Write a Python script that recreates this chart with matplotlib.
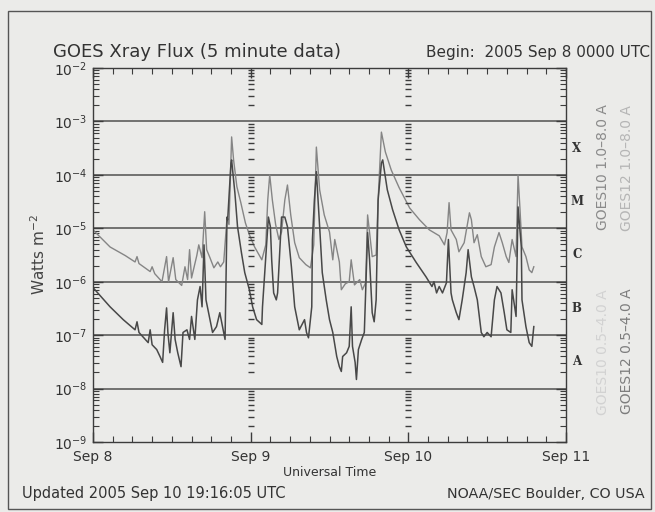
import numpy as np
import matplotlib
matplotlib.use("Agg")
import matplotlib.pyplot as plt
from matplotlib.patches import Rectangle
from matplotlib.ticker import FixedLocator, NullFormatter

# =====
# DATA
# =====

# hours since 2005 Sep 8 00:00 UTC, and log10 of flux (W m^-2)
long_hours = [0.0, 2.6, 4.9, 6.4, 6.7, 7.0, 8.7, 9.0, 9.4, 10.5, 11.2, 11.5, 12.2, 12.6,
              13.5, 14.0, 14.4, 14.7, 15.0, 15.8, 16.1, 16.6, 17.0, 17.3, 17.8, 18.4,
              19.0, 19.4, 19.9, 20.4, 20.7, 21.1, 21.4, 21.9, 22.5, 23.2, 23.8, 24.6,
              25.7, 26.3, 26.6, 26.9, 27.3, 27.8, 28.3, 28.7, 29.2, 29.6, 30.1, 30.7,
              31.4, 32.4, 33.1, 33.6, 34.0, 34.5, 35.2, 36.0, 36.5, 36.8, 37.5, 37.8,
              38.4, 39.0, 39.3, 39.8, 40.6, 41.0, 41.5, 41.8, 42.1, 42.5, 43.1, 43.4,
              43.9, 44.5, 45.4, 46.6, 48.2, 49.7, 51.2, 52.7, 53.5, 53.9, 54.2, 54.5,
              55.3, 55.7, 56.5, 57.3, 57.6, 58.0, 58.5, 59.1, 59.8, 60.6, 61.1, 61.8,
              62.3, 62.9, 63.3, 63.8, 64.4, 64.7, 65.0, 65.3, 65.9, 66.4, 66.8, 67.1]
long_logflux = [-5.03, -5.35, -5.51, -5.63, -5.53, -5.66, -5.81, -5.72, -5.85, -6.00, -5.53,
                -6.00, -5.55, -5.96, -6.07, -5.72, -5.96, -5.40, -5.93, -5.51, -5.31, -5.55,
                -4.69, -5.40, -5.55, -5.74, -5.63, -5.72, -5.63, -4.80, -4.93, -3.29, -3.72,
                -4.22, -4.52, -4.90, -5.12, -5.35, -5.59, -5.31, -4.47, -4.00, -4.47, -4.93,
                -5.21, -5.07, -4.47, -4.19, -4.75, -5.27, -5.55, -5.68, -5.74, -5.31, -3.48,
                -4.28, -4.75, -5.07, -5.59, -5.21, -5.63, -6.15, -6.04, -6.00, -5.59, -6.06,
                -5.96, -6.15, -6.02, -4.75, -5.08, -5.53, -5.50, -4.47, -3.20, -3.57, -3.91,
                -4.24, -4.62, -4.84, -5.03, -5.14, -5.31, -5.08, -4.52, -5.03, -5.21, -5.44,
                -5.27, -4.71, -4.84, -5.27, -5.12, -5.53, -5.72, -5.68, -5.35, -5.08, -5.27,
                -5.53, -5.64, -5.21, -5.53, -4.00, -4.65, -5.35, -5.53, -5.78, -5.83, -5.72]

short_hours = [0.0, 2.6, 4.6, 6.4, 6.7, 7.0, 8.4, 8.7, 9.0, 9.7, 10.2, 10.6, 10.9, 11.2,
               11.4, 11.7, 12.2, 12.5, 12.9, 13.4, 13.7, 14.3, 14.7, 15.0, 15.5, 15.9,
               16.3, 16.6, 16.9, 17.2, 18.2, 18.8, 19.3, 19.6, 20.1, 20.4, 20.5, 21.0,
               21.1, 21.6, 22.0, 22.6, 23.1, 23.8, 24.3, 24.9, 25.7, 25.8, 26.4, 26.7,
               27.0, 27.2, 27.5, 27.9, 28.1, 28.7, 29.2, 29.6, 30.2, 30.7, 31.1, 31.4,
               32.2, 32.5, 32.8, 33.3, 33.4, 33.7, 34.0, 34.5, 34.9, 35.5, 36.0, 36.5,
               37.1, 37.5, 37.8, 38.0, 38.6, 39.0, 39.3, 39.5, 39.9, 40.1, 40.4, 40.9,
               41.3, 41.6, 41.8, 42.1, 42.5, 42.8, 43.1, 43.4, 43.9, 44.1, 44.8, 45.6,
               46.6, 47.7, 49.2, 50.7, 51.6, 51.9, 52.3, 52.7, 53.2, 53.8, 54.1, 54.5,
               54.7, 55.3, 55.7, 56.2, 56.8, 57.1, 57.6, 58.0, 58.5, 59.1, 59.5, 60.0,
               60.6, 61.1, 61.5, 62.1, 62.6, 63.0, 63.6, 63.8, 64.4, 64.7, 65.2, 65.3,
               65.9, 66.4, 66.8, 67.1]
short_logflux = [-6.11, -6.47, -6.71, -6.90, -6.75, -6.95, -7.14, -6.90, -7.18, -7.27, -7.40,
                 -7.51, -6.90, -6.49, -6.95, -7.33, -6.58, -7.08, -7.33, -7.59, -6.95, -6.90,
                 -7.08, -6.65, -7.08, -6.34, -6.09, -6.47, -5.31, -6.34, -6.95, -6.84, -6.58,
                 -6.77, -7.08, -4.79, -4.84, -3.78, -3.72, -4.34, -4.97, -5.46, -5.83, -6.15,
                 -6.47, -6.71, -6.80, -6.47, -5.35, -4.79, -4.97, -5.59, -6.21, -6.34, -6.21,
                 -4.79, -4.79, -4.97, -5.72, -6.47, -6.71, -6.90, -6.71, -6.95, -7.05, -6.47,
                 -5.21, -4.47, -3.94, -4.97, -5.83, -6.34, -6.71, -6.95, -7.40, -7.59, -7.68,
                 -7.40, -7.33, -7.21, -6.47, -7.21, -7.51, -7.83, -7.27, -7.08, -6.95, -5.83,
                 -5.08, -5.59, -6.58, -6.75, -6.34, -4.47, -3.78, -3.72, -4.28, -4.65, -5.03,
                 -5.35, -5.64, -5.91, -6.09, -6.00, -6.21, -6.09, -6.21, -6.02, -5.21, -6.21,
                 -6.34, -6.58, -6.71, -6.34, -5.83, -5.40, -5.91, -6.09, -6.34, -6.95, -7.03,
                 -6.95, -7.03, -6.34, -6.09, -6.21, -6.58, -6.90, -6.95, -6.15, -6.65, -4.60,
                 -5.35, -6.34, -6.84, -7.14, -7.21, -6.84]

day_hours = [0, 24, 48, 72]
day_labels = ['Sep 8', 'Sep 9', 'Sep 10', 'Sep 11']
flare_classes = ['X', 'M', 'C', 'B', 'A']
class_centers = [-3.5, -4.5, -5.5, -6.5, -7.5]

# =====
# PLOT
# =====

bg = '#ebebe9'
ink = '#3c3c3c'

fig = plt.figure(figsize=(6.55, 5.12), dpi=100, facecolor=bg)
ax = fig.add_axes([93/655, 1 - 442/512, 473/655, 374/512], facecolor=bg)

ax.plot(long_hours, 10.0**np.array(long_logflux), color='#858585', lw=1.0)
ax.plot(short_hours, 10.0**np.array(short_logflux), color='#484848', lw=1.1)

ax.set_yscale('log')
ax.set_ylim(1e-9, 1e-2)
ax.set_xlim(0, 72)

# decade grid lines
for e in range(-8, -2):
    ax.axhline(10.0**e, color='#505050', lw=1.1, zorder=0.5)

# minor log positions used for ticks and the day columns
minor_y = [m * 10.0**e for e in range(-9, -2) for m in range(2, 10)]
for d in day_hours[1:-1]:
    ax.plot([d] * len(minor_y), minor_y, ls='none', marker='_', ms=5, mew=1.0, color=ink)

ax.set_xticks(day_hours)
ax.set_xticklabels(day_labels)
ax.xaxis.set_minor_locator(FixedLocator(np.arange(0, 73, 3)))
ax.yaxis.set_minor_locator(FixedLocator(minor_y))
ax.yaxis.set_minor_formatter(NullFormatter())
ax.tick_params(which='both', direction='in', top=True, right=True, colors=ink,
               labelcolor='#333333', labelsize=10)
ax.tick_params(which='major', length=7, width=1.0)
ax.tick_params(which='minor', length=4.5, width=0.8)
ax.tick_params(axis='x', pad=6)
ax.tick_params(axis='y', pad=4)
for s in ax.spines.values():
    s.set_color(ink)
    s.set_linewidth(1.0)

ax.set_xlabel('Universal Time', fontsize=9, color='#333333', labelpad=1)
ax.set_ylabel('Watts m$^{-2}$', fontsize=11, color='#444444', labelpad=4)

# flare class letters
for lab, c in zip(flare_classes, class_centers):
    ax.text(1.023, 10.0**c, lab, transform=ax.get_yaxis_transform(), ha='center',
            va='center', fontsize=8.5, fontweight='bold', family='DejaVu Serif', color='#333333')

# texts around the plot
fig.text(53/655, 1 - 57/512, 'GOES Xray Flux (5 minute data)', fontsize=13,
         color='#333333', va='baseline')
fig.text(650/655, 1 - 57/512, 'Begin:  2005 Sep 8 0000 UTC', fontsize=11,
         color='#333333', va='baseline', ha='right')
fig.text(22/655, 1 - 498/512, 'Updated 2005 Sep 10 19:16:05 UTC', fontsize=10.5,
         color='#333333', va='baseline')
fig.text(645/655, 1 - 498/512, 'NOAA/SEC Boulder, CO USA', fontsize=10.3,
         color='#333333', va='baseline', ha='right')

# rotated channel legend
fig.text(603/655, 1 - 167/512, 'GOES10 1.0\u20138.0 A', rotation=90, fontsize=10,
         color='#8a8a8a', ha='center', va='center')
fig.text(627/655, 1 - 168/512, 'GOES12 1.0\u20138.0 A', rotation=90, fontsize=10,
         color='#b5b5b5', ha='center', va='center')
fig.text(603/655, 1 - 352/512, 'GOES10 0.5\u20134.0 A', rotation=90, fontsize=10,
         color='#d2d2d2', ha='center', va='center')
fig.text(627/655, 1 - 351/512, 'GOES12 0.5\u20134.0 A', rotation=90, fontsize=10,
         color='#7d7d7d', ha='center', va='center')

# outer frame
fig.patches.append(Rectangle((8/655, 1 - 509/512), 643/655, 498/512, transform=fig.transFigure,
                             fill=False, edgecolor='#555555', lw=1.0))

fig.savefig('out.png', dpi=100, facecolor=bg)
